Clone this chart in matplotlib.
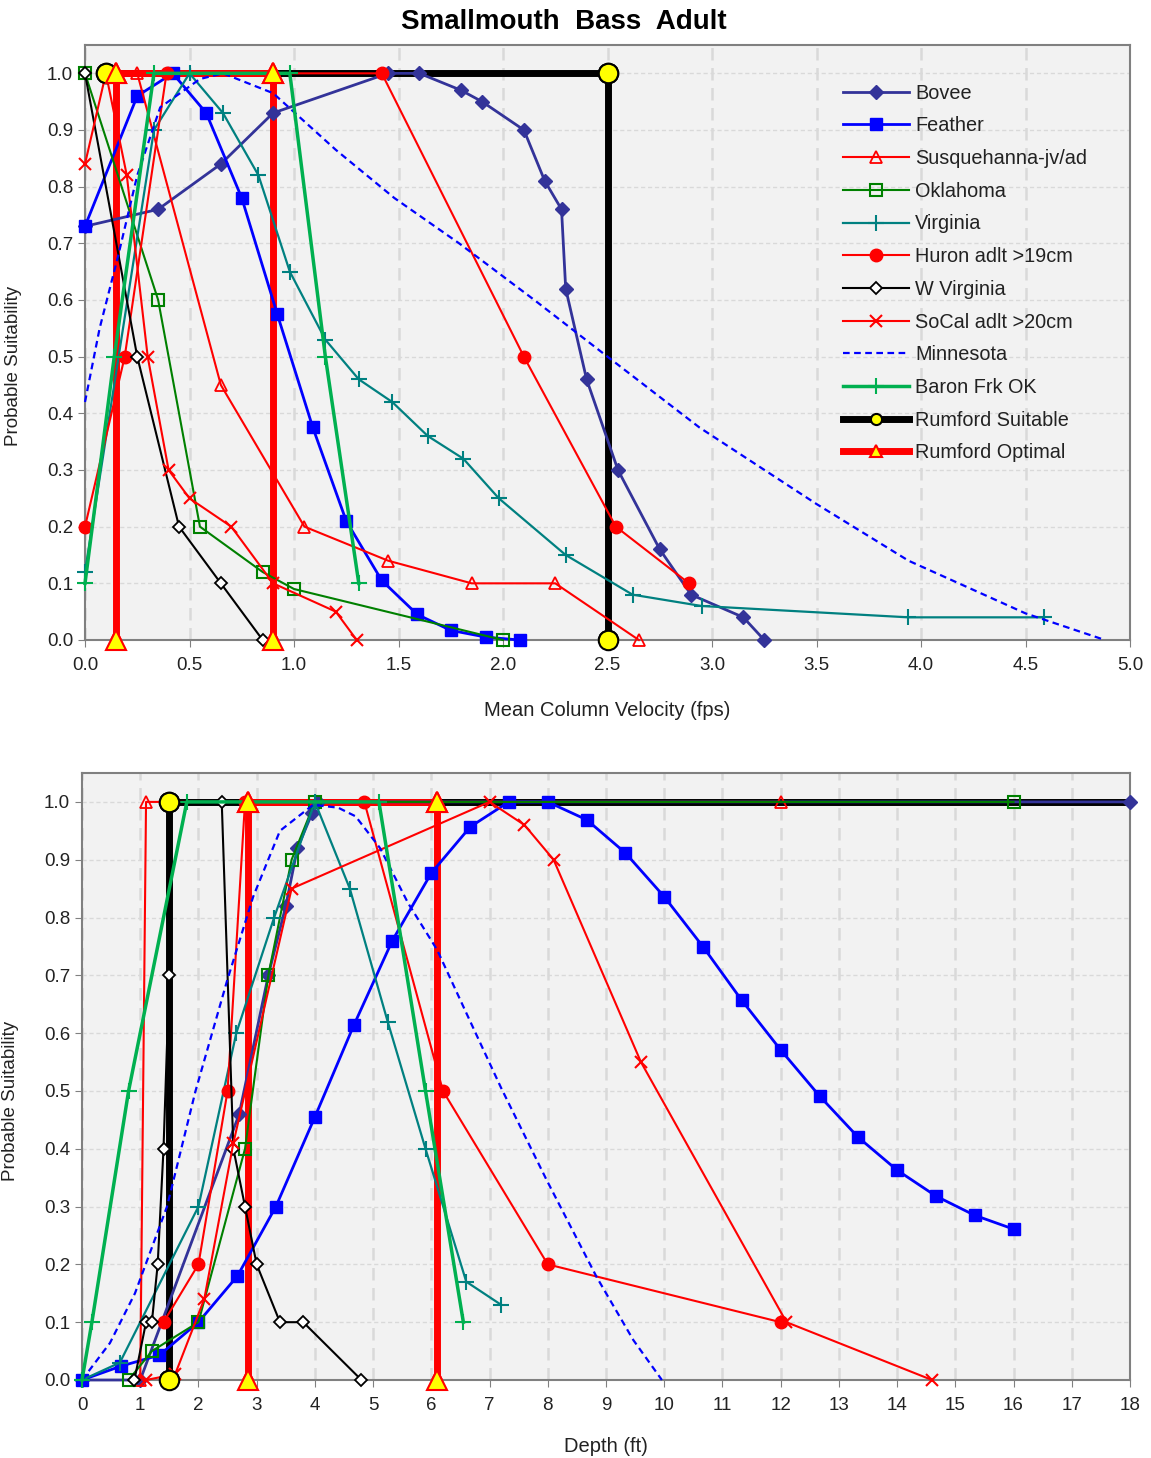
import matplotlib
matplotlib.use("Agg")
import matplotlib.pyplot as plt
from matplotlib.ticker import MultipleLocator, FormatStrFormatter

plt.rcParams['font.family'] = ['Liberation Sans', 'DejaVu Sans']

# ---- velocity data (top chart) ----
bovee_v_x = [0, 0.35, 0.65, 0.9, 1.45, 1.6, 1.8, 1.9, 2.1, 2.2, 2.28, 2.3, 2.4, 2.55, 2.75, 2.9, 3.15, 3.25]
bovee_v_y = [0.73, 0.76, 0.84, 0.93, 1.0, 1.0, 0.97, 0.95, 0.9, 0.81, 0.76, 0.62, 0.46, 0.30, 0.16, 0.08, 0.04, 0.0]
feather_v_x = [0, 0.25, 0.42, 0.58, 0.75, 0.92, 1.09, 1.25, 1.42, 1.59, 1.75, 1.92, 2.08]
feather_v_y = [0.73, 0.96, 1.0, 0.93, 0.78, 0.575, 0.375, 0.21, 0.105, 0.045, 0.017, 0.005, 0.0]
susq_v_x = [0.15, 0.25, 0.65, 1.05, 1.45, 1.85, 2.25, 2.65]
susq_v_y = [1.0, 1.0, 0.45, 0.2, 0.14, 0.1, 0.1, 0.0]
okla_v_x = [0, 0.35, 0.55, 0.85, 1.0, 2.0]
okla_v_y = [1.0, 0.6, 0.2, 0.12, 0.09, 0.0]
virg_v_x = [0, 0.33, 0.5, 0.66, 0.83, 0.98, 1.15, 1.31, 1.47, 1.64, 1.81, 1.98, 2.3, 2.62, 2.95, 3.94, 4.59]
virg_v_y = [0.12, 0.9, 1.0, 0.93, 0.82, 0.65, 0.53, 0.46, 0.42, 0.36, 0.32, 0.25, 0.15, 0.08, 0.06, 0.04, 0.04]
huron_v_x = [0, 0.19, 0.39, 1.42, 2.1, 2.54, 2.89]
huron_v_y = [0.2, 0.5, 1.0, 1.0, 0.5, 0.2, 0.1]
wvirg_v_x = [0, 0.25, 0.45, 0.65, 0.85]
wvirg_v_y = [1.0, 0.5, 0.2, 0.1, 0.0]
socal_v_x = [0, 0.1, 0.2, 0.3, 0.4, 0.5, 0.7, 0.9, 1.2, 1.3]
socal_v_y = [0.84, 1.0, 0.82, 0.5, 0.3, 0.25, 0.2, 0.1, 0.05, 0.0]
minn_v_x = [0, 0.07, 0.16, 0.25, 0.36, 0.55, 0.66, 0.9, 1.2, 1.48, 1.79, 2.15, 2.5, 2.94, 3.5, 3.94, 4.5, 4.88]
minn_v_y = [0.42, 0.55, 0.68, 0.82, 0.94, 0.99, 1.0, 0.965, 0.865, 0.78, 0.70, 0.60, 0.5, 0.375, 0.24, 0.14, 0.047, 0.0]
baron_v_x = [0, 0.14, 0.33, 0.98, 1.15, 1.31]
baron_v_y = [0.1, 0.5, 1.0, 1.0, 0.5, 0.1]
suit_v_x = [0.1, 2.5, 2.5]
suit_v_y = [1.0, 1.0, 0.0]
opt_v_x = [0.15, 0.15, 0.9, 0.9]
opt_v_y = [0.0, 1.0, 1.0, 0.0]

# ---- depth data (bottom chart) ----
bovee_d_x = [0, 1.0, 2.7, 3.2, 3.5, 3.7, 3.95, 4.05, 18]
bovee_d_y = [0, 0, 0.46, 0.7, 0.82, 0.92, 0.98, 1.0, 1.0]
feather_d_x = [0, 0.67, 1.33, 2.0, 2.67, 3.33, 4.0, 4.67, 5.33, 6.0, 6.67, 7.33, 8.0,
               8.67, 9.33, 10.0, 10.67, 11.33, 12.0, 12.67, 13.33, 14.0, 14.67, 15.33, 16.0]
feather_d_y = [0, 0.024, 0.043, 0.1, 0.18, 0.3, 0.455, 0.614, 0.76, 0.877, 0.957, 1.0, 1.0,
               0.969, 0.912, 0.836, 0.749, 0.657, 0.571, 0.491, 0.42, 0.363, 0.318, 0.285, 0.261]
susq_d_x = [1.0, 1.1, 12.0]
susq_d_y = [0.0, 1.0, 1.0]
okla_d_x = [0.8, 1.2, 2.0, 2.8, 3.2, 3.6, 4.0, 16.0]
okla_d_y = [0, 0.05, 0.1, 0.4, 0.7, 0.9, 1.0, 1.0]
virg_d_x = [0, 0.65, 2.0, 2.65, 3.3, 4.0, 4.6, 5.25, 5.9, 6.6, 7.2]
virg_d_y = [0, 0.03, 0.3, 0.6, 0.8, 1.0, 0.85, 0.62, 0.4, 0.17, 0.13]
huron_d_x = [1.4, 2.0, 2.5, 2.8, 4.85, 6.2, 8.0, 12.0]
huron_d_y = [0.1, 0.2, 0.5, 1.0, 1.0, 0.5, 0.2, 0.1]
wvirg_d_x = [0.9, 1.1, 1.2, 1.3, 1.4, 1.5, 1.5, 2.4, 2.6, 2.8, 3.0, 3.4, 3.8, 4.8]
wvirg_d_y = [0, 0.1, 0.1, 0.2, 0.4, 0.7, 1.0, 1.0, 0.4, 0.3, 0.2, 0.1, 0.1, 0]
socal_d_x = [1.1, 1.6, 2.1, 2.6, 3.6, 7.0, 7.6, 8.1, 9.6, 12.1, 14.6]
socal_d_y = [0, 0.01, 0.14, 0.41, 0.85, 1.0, 0.96, 0.9, 0.55, 0.1, 0.0]
minn_d_x = [0, 0.48, 0.91, 1.46, 1.95, 2.49, 2.94, 3.4, 3.97, 4.4, 4.7, 5.12, 5.6, 6.1, 6.6, 7.2, 7.98, 8.84, 9.47, 9.96]
minn_d_y = [0, 0.064, 0.15, 0.30, 0.50, 0.69, 0.836, 0.95, 0.995, 0.99, 0.975, 0.92, 0.825, 0.744, 0.635, 0.505, 0.346, 0.178, 0.069, 0.0]
baron_d_x = [0, 0.17, 0.8, 1.8, 5.1, 5.9, 6.55]
baron_d_y = [0, 0.1, 0.5, 1.0, 1.0, 0.5, 0.1]
suit_d_x = [1.5, 1.5, 20]
suit_d_y = [0.0, 1.0, 1.0]
opt_d_x = [2.85, 2.85, 6.1, 6.1]
opt_d_y = [0.0, 1.0, 1.0, 0.0]

labels = ["Bovee", "Feather", "Susquehanna-jv/ad", "Oklahoma", "Virginia", "Huron adlt >19cm",
          "W Virginia", "SoCal adlt >20cm", "Minnesota", "Baron Frk OK", "Rumford Suitable", "Rumford Optimal"]

styles = [
    dict(color="#333399", marker="D", ms=7, lw=2),
    dict(color="#0000FF", marker="s", ms=9, lw=2),
    dict(color="#FF0000", marker="^", ms=8, mfc="none", mew=1.3, lw=1.5),
    dict(color="#008000", marker="s", ms=8, mfc="none", mew=1.5, lw=1.5),
    dict(color="#008080", marker="+", ms=11, mew=1.5, lw=1.6),
    dict(color="#FF0000", marker="o", ms=9, lw=1.5),
    dict(color="black", marker="D", ms=6, mfc="white", mew=1.3, lw=1.5),
    dict(color="#FF0000", marker="x", ms=8, mew=1.5, lw=1.5),
    dict(color="#0000FF", ls=(0, (3, 2)), lw=1.6),
    dict(color="#00B050", marker="+", ms=11, mew=1.5, lw=2.5),
    dict(color="black", marker="o", ms=14, mfc="#FFFF00", mec="black", mew=1.5, lw=5),
    dict(color="#FF0000", marker="^", ms=14, mfc="#FFFF00", mec="#FF0000", mew=1.5, lw=5),
]

fig = plt.figure(figsize=(11.51, 14.58), dpi=100)
fig.text(0.49, 0.985, "Smallmouth  Bass  Adult", ha="center", va="center",
         fontsize=20, fontweight="bold")

ax1 = fig.add_axes([85 / 1151, 1 - 640 / 1458, 1045 / 1151, 595 / 1458])
ax2 = fig.add_axes([82 / 1151, 1 - 1380 / 1458, 1048 / 1151, 607 / 1458])

top_series = [(bovee_v_x, bovee_v_y), (feather_v_x, feather_v_y), (susq_v_x, susq_v_y),
              (okla_v_x, okla_v_y), (virg_v_x, virg_v_y), (huron_v_x, huron_v_y),
              (wvirg_v_x, wvirg_v_y), (socal_v_x, socal_v_y), (minn_v_x, minn_v_y),
              (baron_v_x, baron_v_y), (suit_v_x, suit_v_y), (opt_v_x, opt_v_y)]
bot_series = [(bovee_d_x, bovee_d_y), (feather_d_x, feather_d_y), (susq_d_x, susq_d_y),
              (okla_d_x, okla_d_y), (virg_d_x, virg_d_y), (huron_d_x, huron_d_y),
              (wvirg_d_x, wvirg_d_y), (socal_d_x, socal_d_y), (minn_d_x, minn_d_y),
              (baron_d_x, baron_d_y), (suit_d_x, suit_d_y), (opt_d_x, opt_d_y)]

for ax, series, xmax in [(ax1, top_series, 5), (ax2, bot_series, 18)]:
    ax.set_facecolor("#F2F2F2")
    ax.set_xlim(0, xmax)
    for i, ((x, y), lab, st) in enumerate(zip(series, labels, styles)):
        if i < 10:
            ax.plot(x, y, label=lab, zorder=3, clip_on=False, **st)
        else:
            # thick Rumford lines below, yellow markers on top
            ax.plot(x, y, label=lab, zorder=2, **st)
            keep = [k for k, v in enumerate(x) if v <= xmax]
            ax.plot(x, y, ls="none", marker=st["marker"], ms=st["ms"], mfc=st["mfc"],
                    mec=st["mec"], mew=st["mew"], markevery=keep, zorder=5, clip_on=False)
    ax.set_ylim(0, 1.05)
    ax.yaxis.set_major_locator(MultipleLocator(0.1))
    ax.yaxis.set_major_formatter(FormatStrFormatter("%.1f"))
    ax.grid(axis="y", color="#D9D9D9", ls=(0, (3, 2)), lw=1)
    ax.grid(axis="x", color="#D9D9D9", ls=(0, (5, 3)), lw=1.8)
    ax.set_axisbelow(True)
    for s in ax.spines.values():
        s.set_color("#808080")
        s.set_linewidth(1.5)
    ax.tick_params(labelsize=13.5, length=5, color="#808080", labelcolor="#222222")
    ax.tick_params(axis="x", pad=7)
    ax.set_ylabel("Probable Suitability", fontsize=13.5, color="#222222")
    ax.yaxis.set_label_coords(-0.06, 0.46)

ax1.xaxis.set_major_locator(MultipleLocator(0.5))
ax1.xaxis.set_major_formatter(FormatStrFormatter("%.1f"))
ax1.set_xlabel("Mean Column Velocity (fps)", fontsize=14.5, color="#222222", labelpad=20)

ax2.xaxis.set_major_locator(MultipleLocator(1))
ax2.set_xlabel("Depth (ft)", fontsize=14.5, color="#222222", labelpad=17)

handles, labs = ax1.get_legend_handles_labels()
leg = ax1.legend(handles, labs, loc="upper left", bbox_to_anchor=(0.725, 0.935),
                 frameon=False, fontsize=14.3, handlelength=3.35, handletextpad=0.3,
                 labelspacing=0.69, borderpad=0, borderaxespad=0)
for t in leg.get_texts():
    t.set_color("#222222")
for h in leg.legend_handles[10:]:
    h.set_markersize(8)

fig.savefig("out.png", dpi=100)
